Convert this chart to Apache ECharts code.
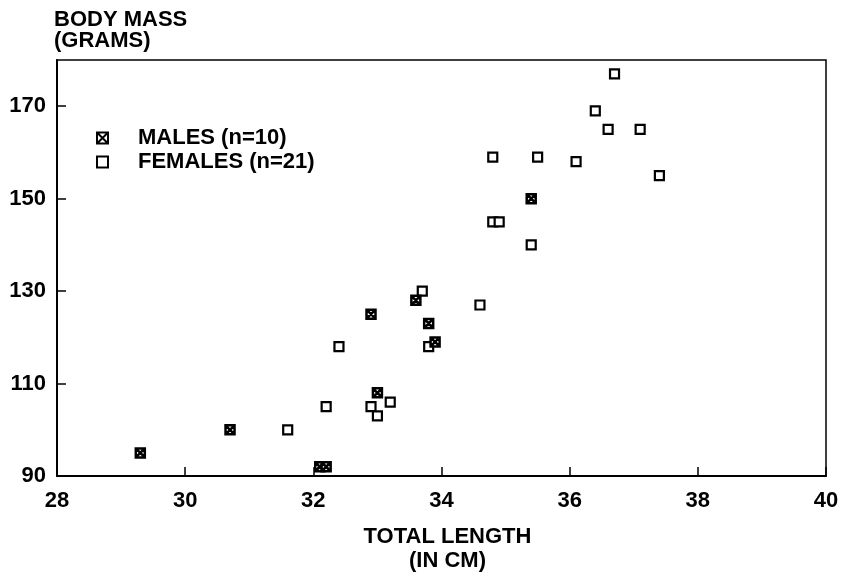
<!DOCTYPE html>
<html>
<head>
<meta charset="utf-8">
<script src="https://cdn.jsdelivr.net/npm/echarts@6/dist/echarts.min.js"></script>
<style>
  html, body { margin: 0; padding: 0; background: #fff; }
  #main { width: 844px; height: 575px; }
</style>
</head>
<body>
<div id="main"></div>
<script>
// total length (cm), body mass (g)
var maleLength = [29.3, 30.7, 32.1, 32.2, 32.9, 33.0, 33.6, 33.8, 33.9, 35.4];
var maleMass   = [95, 100, 92, 92, 125, 108, 128, 123, 119, 150];

var femaleLength = [31.6, 32.2, 32.9, 33.2, 33.0, 32.4, 33.7, 33.8, 34.6, 34.8, 34.9, 35.4, 34.8, 35.5, 36.1, 36.4, 36.6, 37.1, 36.7, 37.4];
var femaleMass   = [100, 105, 105, 106, 103, 118, 130, 118, 127, 145, 145, 140, 159, 159, 158, 169, 165, 165, 177, 155];

var xTicks = { min: 28, max: 40, step: 2 };
var yTicks = { min: 90, max: 180, step: 20 };

function pairs(xs, ys) {
  return xs.map(function (x, i) { return [x, ys[i]]; });
}

var font = "'Liberation Sans', Arial, Helvetica, sans-serif";
var boxSymbol = 'path://M0,0H10V10H0Z M0,0L10,10 M10,0L0,10';

var myChart = echarts.init(document.getElementById("main"));

var option = {
  animation: false,
  backgroundColor: "#fff",
  textStyle: { fontFamily: font, fontWeight: "bold", color: "#000" },
  grid: {
    left: 57, right: 18, top: 60, bottom: 99,
    outerBoundsMode: "none",
    containLabel: false,
    show: true, borderColor: "#000", borderWidth: 1.5, backgroundColor: "transparent"
  },
  legend: {
    orient: "vertical",
    left: 91, top: 121,
    itemWidth: 11, itemHeight: 11,
    itemGap: 0,
    selectedMode: false,
    textStyle: {
      fontFamily: font, fontWeight: "bold", fontSize: 22, color: "#000",
      lineHeight: 24, padding: [0, 0, 0, 25]
    },
    data: ["MALES (n=10)", "FEMALES (n=21)"]
  },
  xAxis: {
    type: "value",
    min: xTicks.min, max: xTicks.max, interval: xTicks.step,
    name: "TOTAL LENGTH\n(IN CM)",
    nameLocation: "middle",
    nameGap: 49,
    nameTextStyle: {
      fontFamily: font, fontWeight: "bold", fontSize: 22, color: "#000",
      lineHeight: 24, padding: [0, 0, 0, 12]
    },
    axisLine: { lineStyle: { color: "#000", width: 2 } },
    axisTick: { inside: true, length: 9, lineStyle: { color: "#000", width: 1.5 } },
    axisLabel: { margin: 14, fontFamily: font, fontWeight: "bold", fontSize: 22, color: "#000" },
    splitLine: { show: false }
  },
  yAxis: {
    type: "value",
    min: yTicks.min, max: yTicks.max, interval: yTicks.step,
    name: "BODY MASS\n(GRAMS)",
    nameLocation: "end",
    nameGap: 9,
    nameTextStyle: {
      fontFamily: font, fontWeight: "bold", fontSize: 22, color: "#000",
      align: "left", verticalAlign: "bottom", lineHeight: 21, padding: [0, 0, 0, -3]
    },
    axisLine: { lineStyle: { color: "#000", width: 2 } },
    axisTick: { inside: true, length: 9, lineStyle: { color: "#000", width: 1.5 } },
    axisLabel: { margin: 11, showMaxLabel: false, fontFamily: font, fontWeight: "bold", fontSize: 22, color: "#000" },
    splitLine: { show: false }
  },
  series: [
    {
      name: "FEMALES (n=21)",
      type: "scatter",
      symbol: "rect",
      symbolSize: 9,
      itemStyle: { color: "#fff", borderColor: "#000", borderWidth: 2.2, opacity: 1 },
      emphasis: { disabled: true },
      data: pairs(femaleLength, femaleMass)
    },
    {
      name: "MALES (n=10)",
      type: "scatter",
      symbol: boxSymbol,
      symbolSize: 9,
      itemStyle: { color: "#fff", borderColor: "#000", borderWidth: 2.5, opacity: 1 },
      emphasis: { disabled: true },
      data: pairs(maleLength, maleMass)
    }
  ]
};

myChart.setOption(option);
</script>
</body>
</html>
